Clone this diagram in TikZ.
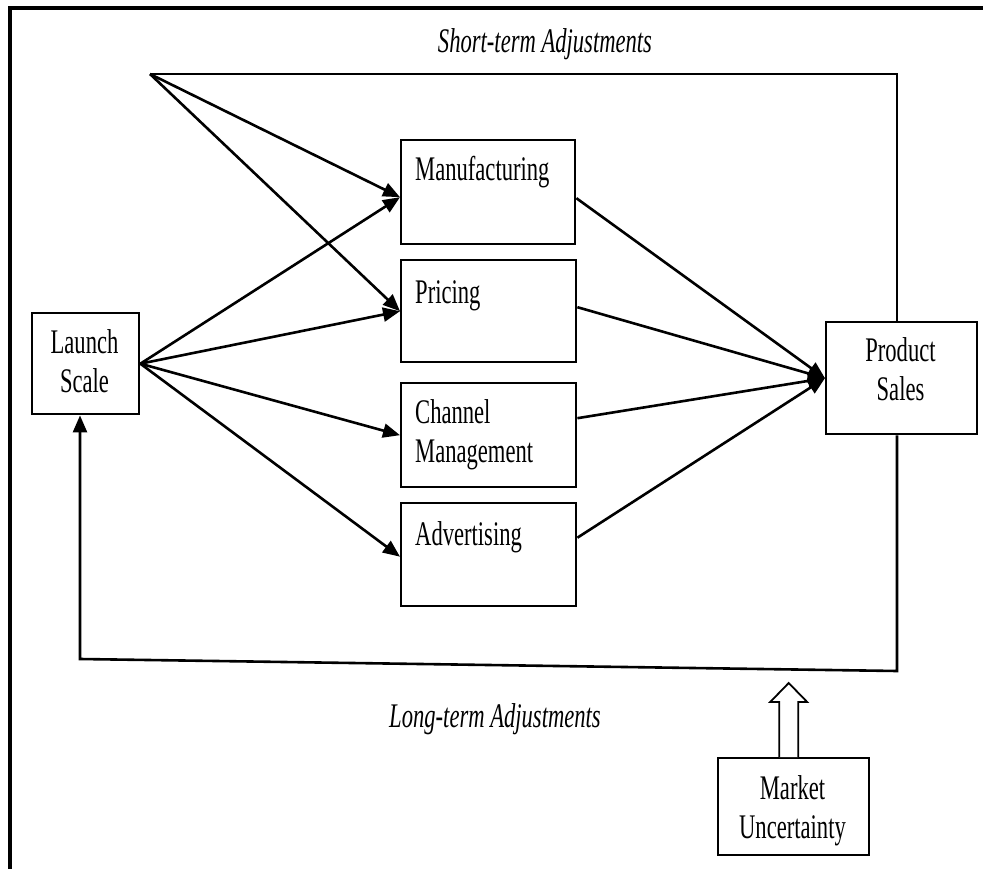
\documentclass[tikz,border=0pt]{standalone}
\usepackage{fontspec}
\newfontfamily\diagfont[FakeStretch=0.655]{Liberation Serif}
\usetikzlibrary{arrows.meta}

\begin{document}
\begin{tikzpicture}[x=1pt,y=-1pt,
  box/.style={draw, line width=2.4pt, inner sep=0pt, anchor=north west},
  txt/.style={font=\diagfont\fontsize{34.5}{39}\selectfont, inner sep=0pt},
  ital/.style={font=\diagfont\itshape\fontsize{34.5}{39}\selectfont, inner sep=0pt},
  conn/.style={line width=2.6pt, -{Triangle[length=17pt,width=14pt]}},
  loopline/.style={line width=2.6pt},
]
\useasboundingbox (0,0) rectangle (983,869);

% outer frame (left and top edges)
\draw[line width=3.8pt] (10,869) -- (10,8) -- (983,8);

% boxes
\node[box, minimum width=107, minimum height=101] (ls) at (31,312) {};
\node[box, minimum width=151, minimum height=112] (ps) at (825,321) {};
\node[box, minimum width=151, minimum height=97]  (mu) at (717,757) {};
\node[box, minimum width=174, minimum height=104] (man) at (400,139) {};
\node[box, minimum width=175, minimum height=102] (pri) at (400,259) {};
\node[box, minimum width=175, minimum height=104] (cha) at (400,382) {};
\node[box, minimum width=175, minimum height=103] (adv) at (400,502) {};

% box texts (multi-line nodes sit on the baseline of their last line)
\node[txt, align=center, anchor=base] (lstxt) at (84.5,392) {Launch\\Scale};
\node[txt, align=center, anchor=base] (pstxt) at (900.5,400) {Product\\Sales};
\node[txt, align=center, anchor=base] (mutxt) at (792.5,838) {Market\\Uncertainty};
\node[txt, anchor=base west] (mantxt) at (415,181) {Manufacturing};
\node[txt, anchor=base west] (pritxt) at (415,303) {Pricing};
\node[txt, align=left, anchor=base west] (chatxt) at (415,462) {Channel\\Management};
\node[txt, anchor=base west] (advtxt) at (415,545) {Advertising};

% loop labels
\node[ital, anchor=base] (stl) at (545,53) {Short-term Adjustments};
\node[ital, anchor=base] (ltl) at (495,727) {Long-term Adjustments};

% loop corners
\coordinate (st) at (150,74);
\coordinate (tr) at (897,74);
\coordinate (br) at (897,671);
\coordinate (bl) at (80,659);

% short-term loop
\draw[loopline] (ps.north -| tr) -- (tr) -- (st);
\draw[conn] (st) -- ([yshift=-5pt]man.west);
\draw[conn] (st) -- (pri.west);

% long-term loop
\draw[conn] (ps.south -| br) -- (br) -- (bl) -- (bl |- ls.south);

% launch scale to the four levers
\draw[conn] (ls.east) -- ([yshift=-5pt]man.west);
\draw[conn] (ls.east) -- (pri.west);
\draw[conn] (ls.east) -- (cha.west);
\draw[conn] (ls.east) -- ([yshift=-2pt]adv.west);

% levers to product sales
\draw[conn] ([yshift=-6pt]man.east) -- (ps.west);
\draw[conn] ([yshift=4pt]pri.east) -- (ps.west);
\draw[conn] ([yshift=17pt]cha.east) -- (ps.west);
\draw[conn] ([yshift=17pt]adv.east) -- (ps.west);

% market uncertainty block arrow
\draw[line width=1.8pt, fill=white] (mu.north) ++(-14.5,0) -- ++(0,-55) -- ++(-9,0)
  -- ++(18.5,-19) -- ++(18.5,19) -- ++(-9,0) -- ++(0,55);
\end{tikzpicture}
\end{document}
